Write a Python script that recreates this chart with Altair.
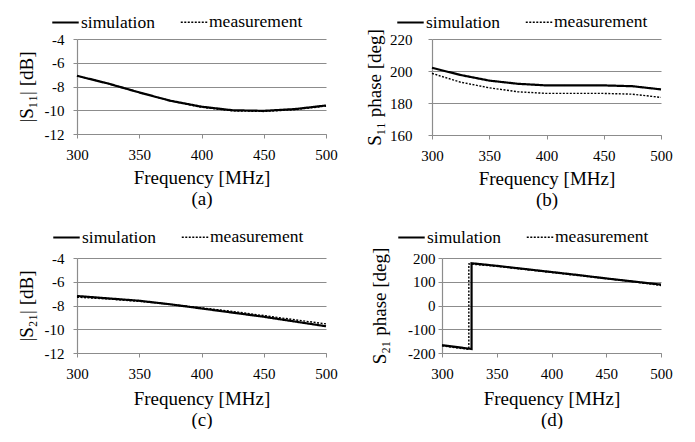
import altair as alt
import pandas as pd

FONT = "Liberation Serif"
SERIES = ["simulation", "measurement"]

# (a) |S11|
freq_a = [300, 325, 350, 375, 400, 425, 450, 475, 500]
a_sim = [-7.1, -7.75, -8.5, -9.2, -9.7, -10.0, -10.05, -9.9, -9.6]
a_meas = [-7.1, -7.75, -8.5, -9.2, -9.75, -10.05, -10.1, -9.95, -9.65]

# (b) S11 phase
freq_b = [300, 325, 350, 375, 400, 425, 450, 475, 500]
b_sim = [202, 197.5, 194, 192, 191, 191, 191, 190.5, 188.5]
b_meas = [198.5, 193, 189.5, 187, 186, 186, 186, 185.5, 183.5]

# (c) |S21|
freq_c = [300, 325, 350, 375, 400, 425, 450, 475, 500]
c_sim = [-7.2, -7.4, -7.6, -7.9, -8.25, -8.6, -8.95, -9.35, -9.75]
c_meas = [-7.3, -7.45, -7.65, -7.9, -8.2, -8.5, -8.85, -9.2, -9.55]

# (d) S21 phase (with phase wrap)
freq_d_sim = [300, 327, 327, 350, 375, 400, 425, 450, 475, 500]
d_sim = [-167, -183, 178, 167, 154, 141, 128, 114, 101, 88]
freq_d_meas = [300, 324.5, 324.5, 350, 375, 400, 425, 450, 475, 500]
d_meas = [-170, -185, 175, 165, 152, 139, 126, 113, 100, 84]

x_ticks = [300, 350, 400, 450, 500]


def frame(fs, sim, fm, meas):
    rows = []
    for i, (f, v) in enumerate(zip(fs, sim)):
        rows.append({"f": f, "v": v, "series": "simulation", "i": i})
    for i, (f, v) in enumerate(zip(fm, meas)):
        rows.append({"f": f, "v": v, "series": "measurement", "i": i})
    return pd.DataFrame(rows)


def panel(df, ytitle, ydom, yvals, caption, width, height, lx, ly, ylp, ytp, xtp):
    return alt.Chart(df).mark_line(color="black").encode(
        x=alt.X("f:Q", scale=alt.Scale(domain=[300, 500], nice=False, zero=False),
                axis=alt.Axis(values=x_ticks, title=["Frequency [MHz]", caption],
                              grid=False, tickSize=4, labelPadding=9, titlePadding=xtp,
                              titleLineHeight=21, labelFont=FONT, labelFontSize=15,
                              labelFlush=False, labelExpr="'' + datum.value")),
        y=alt.Y("v:Q", scale=alt.Scale(domain=ydom, nice=False, zero=False),
                axis=alt.Axis(values=yvals, title=ytitle, grid=True, tickSize=4,
                              labelPadding=ylp, titlePadding=ytp, labelFont=FONT,
                              labelFontSize=15, labelFlush=False,
                              labelExpr="'' + datum.value")),
        strokeDash=alt.StrokeDash("series:N",
                                  scale=alt.Scale(domain=SERIES, range=[[1, 0], [2, 1.5]]),
                                  legend=alt.Legend(orient="none", legendX=lx, legendY=ly,
                                                    direction="horizontal", title=None,
                                                    symbolType="stroke", symbolSize=700,
                                                    symbolStrokeColor="black",
                                                    symbolStrokeWidth=1.8,
                                                    labelFont=FONT, labelFontSize=17.5,
                                                    labelColor="black", labelOffset=1,
                                                    columnPadding=22)),
        strokeWidth=alt.StrokeWidth("series:N",
                                    scale=alt.Scale(domain=SERIES, range=[2.2, 1.4]),
                                    legend=None),
        order=alt.Order("i:Q"),
    ).properties(width=width, height=height)


pa = panel(frame(freq_a, a_sim, freq_a, a_meas), "|S₁₁| [dB]", [-12, -4],
           [-12, -10, -8, -6, -4], "(a)", 249, 95, -26, -31, 9, 8, 6)
pb = panel(frame(freq_b, b_sim, freq_b, b_meas), "S₁₁ phase [deg]", [160, 220],
           [160, 180, 200, 220], "(b)", 229, 96, -36, -31, 16, 5, 6)
pc = panel(frame(freq_c, c_sim, freq_c, c_meas), "|S₂₁| [dB]", [-12, -4],
           [-12, -10, -8, -6, -4], "(c)", 249, 95, -25, -35, 9, 8, 8)
pd_ = panel(frame(freq_d_sim, d_sim, freq_d_meas, d_meas), "S₂₁ phase [deg]", [-200, 200],
            [-200, -100, 0, 100, 200], "(d)", 219, 95, -45, -35, 3, 18, 8)

chart = alt.vconcat(
    alt.hconcat(pa, pb, spacing=27).resolve_scale(strokeDash="independent", strokeWidth="independent"),
    alt.hconcat(pc, pd_, spacing=32).resolve_scale(strokeDash="independent", strokeWidth="independent"),
    spacing=14,
).resolve_scale(
    strokeDash="independent", strokeWidth="independent"
).properties(
    padding={"top": 0, "left": 9, "right": 5, "bottom": 0}
).configure_view(
    stroke=None
).configure_axis(
    labelFont=FONT, titleFont=FONT, labelFontSize=15, titleFontSize=19,
    labelColor="black", titleColor="black", titleFontWeight="normal",
    domainColor="#8c8c8c", tickColor="#8c8c8c", gridColor="#8c8c8c",
    gridWidth=1.2, domainWidth=1.2,
)

chart.save("out.html", embed_options={"renderer": "svg", "actions": False})
